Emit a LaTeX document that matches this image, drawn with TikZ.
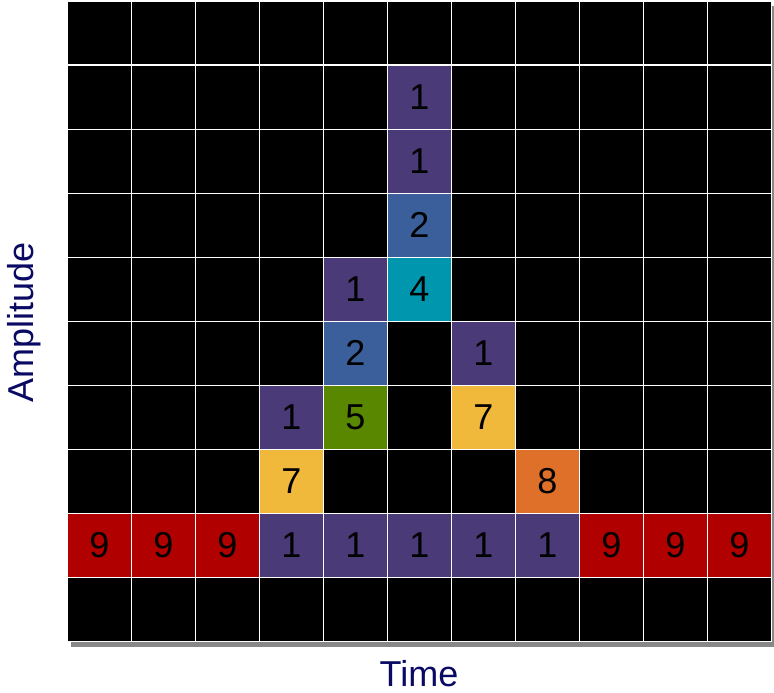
\documentclass[tikz,border=0pt]{standalone}
\usepackage{fontspec}
\setmainfont{Liberation Sans}
\definecolor{cpurple}{HTML}{4B3A78}
\definecolor{cblue}{HTML}{3A5F9A}
\definecolor{cteal}{HTML}{0096AE}
\definecolor{cgreen}{HTML}{5A8700}
\definecolor{cyellow}{HTML}{F0B93C}
\definecolor{corange}{HTML}{DF702A}
\definecolor{cred}{HTML}{B00000}
\definecolor{navy}{HTML}{0A0A64}
\definecolor{shadowgray}{HTML}{888888}
\begin{document}
\begin{tikzpicture}[x=1pt,y=-1pt,
  cell/.style={rectangle,draw=white,line width=1.6pt,minimum size=64pt,inner sep=0pt,anchor=north west,
    font=\fontsize{36}{36}\selectfont,text=black},
  axislabel/.style={font=\fontsize{36}{36}\selectfont,text=navy,inner sep=0pt}]
\useasboundingbox (0,0) rectangle (774,693);
\fill[shadowgray] (71,6) rectangle (774,646.5);
\foreach \i in {0,...,10}{
  \foreach \j in {0,...,9}{
    \node[cell,fill=black] (b\i-\j) at ({66.5+64*\i},{0.5+64*\j}) {};
  }
}
\node[cell,fill=cpurple] (c5-1) at (386.5,64.5) {1};
\node[cell,fill=cpurple] (c5-2) at (386.5,128.5) {1};
\node[cell,fill=cblue] (c5-3) at (386.5,192.5) {2};
\node[cell,fill=cpurple] (c4-4) at (322.5,256.5) {1};
\node[cell,fill=cteal] (c5-4) at (386.5,256.5) {4};
\node[cell,fill=cblue] (c4-5) at (322.5,320.5) {2};
\node[cell,fill=cpurple] (c6-5) at (450.5,320.5) {1};
\node[cell,fill=cpurple] (c3-6) at (258.5,384.5) {1};
\node[cell,fill=cgreen] (c4-6) at (322.5,384.5) {5};
\node[cell,fill=cyellow] (c6-6) at (450.5,384.5) {7};
\node[cell,fill=cyellow] (c3-7) at (258.5,448.5) {7};
\node[cell,fill=corange] (c7-7) at (514.5,448.5) {8};
\foreach \i in {0,1,2,8,9,10}{
  \node[cell,fill=cred] (c\i-8) at ({66.5+64*\i},512.5) {9};
}
\foreach \i in {3,...,7}{
  \node[cell,fill=cpurple] (c\i-8) at ({66.5+64*\i},512.5) {1};
}
\node[axislabel,anchor=base] (time) at (419,686) {Time};
\node[axislabel,anchor=base,rotate=90] (amp) at (33,322) {Amplitude};
\end{tikzpicture}
\end{document}
